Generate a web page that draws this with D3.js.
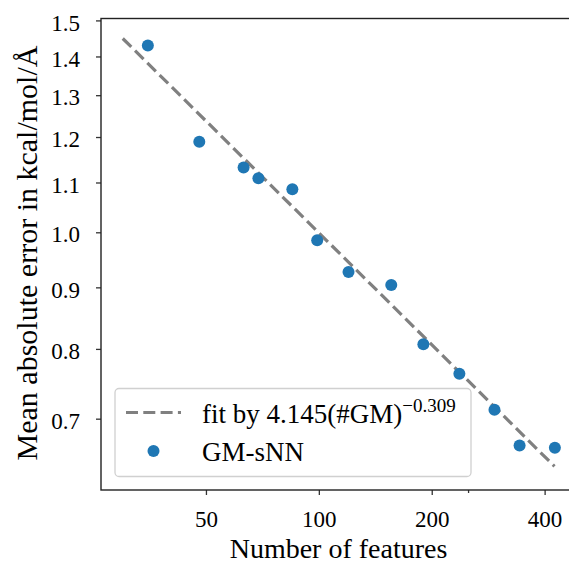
<!DOCTYPE html>
<html>
<head>
<meta charset="utf-8">
<script src="https://cdn.jsdelivr.net/npm/d3@7"></script>
<style>
  body { margin: 0; background: #fff; }
  svg { display: block; }
  svg text { font-family: "Liberation Serif", "DejaVu Serif", serif; fill: #000; }
</style>
</head>
<body>
<div id="visual"></div>
<script>
// data
var features = [35, 48, 63, 69, 85, 99, 120, 156, 190, 237, 294, 343, 426];
var mae = [1.430, 1.189, 1.132, 1.109, 1.086, 0.985, 0.927, 0.904, 0.807, 0.763, 0.712, 0.665, 0.662];

// fitted power law, end points of the dashed line
var fitX = [30, 425];
var fitY = [1.449, 0.639];

var xTicks = [50, 100, 200, 400];
var xMinorTicks = [250];
var yTicks = [0.7, 0.8, 0.9, 1.0, 1.1, 1.2, 1.3, 1.4, 1.5];

var width = 569, height = 563;
var plot = { left: 101, top: 18.5, right: 576, bottom: 490 };

var svg = d3.select("#visual").append("svg")
    .attr("width", width)
    .attr("height", height);

var x = d3.scaleLog()
    .domain([26.25, 485])
    .range([plot.left, plot.right]);

var y = d3.scaleLog()
    .domain([0.6107, 1.5055])
    .range([plot.bottom, plot.top]);

// axes
var xAxis = svg.append("g")
    .attr("transform", "translate(0," + plot.bottom + ")")
    .call(d3.axisBottom(x).tickValues(xTicks).tickFormat(d3.format("d")).tickSize(5));

svg.append("g")
    .attr("transform", "translate(0," + plot.bottom + ")")
    .call(d3.axisBottom(x).tickValues(xMinorTicks).tickFormat("").tickSize(3));

var yAxis = svg.append("g")
    .attr("transform", "translate(" + plot.left + ",0)")
    .call(d3.axisLeft(y).tickValues(yTicks).tickFormat(d3.format(".1f")).tickSize(5).tickPadding(16));

svg.selectAll(".domain").remove();
svg.selectAll(".tick line").attr("stroke", "#333").attr("stroke-width", 1.3);
svg.selectAll(".tick text").style("font-size", "23px");
yAxis.selectAll(".tick text").attr("dy", "0.42em");
xAxis.selectAll(".tick text").attr("y", 37).attr("dy", 0);

// spines (right one falls outside the picture)
svg.append("rect")
    .attr("x", plot.left)
    .attr("y", plot.top)
    .attr("width", plot.right - plot.left)
    .attr("height", plot.bottom - plot.top)
    .attr("fill", "none")
    .attr("stroke", "#222")
    .attr("stroke-width", 1.4);

// fit line
var line = d3.line()
    .x(function (d) { return x(d[0]); })
    .y(function (d) { return y(d[1]); });

svg.append("path")
    .datum(d3.zip(fitX, fitY))
    .attr("d", line)
    .attr("fill", "none")
    .attr("stroke", "#808080")
    .attr("stroke-width", 3.2)
    .attr("stroke-dasharray", "12,5.3");

// points
svg.selectAll(".dot")
    .data(d3.zip(features, mae))
  .enter().append("circle")
    .attr("class", "dot")
    .attr("cx", function (d) { return x(d[0]); })
    .attr("cy", function (d) { return y(d[1]); })
    .attr("r", 6)
    .attr("fill", "#1f77b4");

// axis labels
svg.append("text")
    .attr("x", (plot.left + plot.right) / 2)
    .attr("y", 557.5)
    .attr("text-anchor", "middle")
    .style("font-size", "28px")
    .text("Number of features");

svg.append("text")
    .attr("transform", "translate(37," + 253 + ") rotate(-90)")
    .attr("text-anchor", "middle")
    .style("font-size", "30px")
    .text("Mean absolute error in kcal/mol/Å");

// legend
var legend = svg.append("g");

legend.append("rect")
    .attr("x", 115)
    .attr("y", 388.5)
    .attr("width", 356)
    .attr("height", 88)
    .attr("rx", 4)
    .attr("fill", "#fff")
    .attr("fill-opacity", 0.8)
    .attr("stroke", "#d0d0d0")
    .attr("stroke-width", 1.3);

legend.append("line")
    .attr("x1", 126).attr("x2", 181)
    .attr("y1", 412.5).attr("y2", 412.5)
    .attr("stroke", "#808080")
    .attr("stroke-width", 3.2)
    .attr("stroke-dasharray", "12,5.3");

legend.append("circle")
    .attr("cx", 153.5)
    .attr("cy", 451)
    .attr("r", 6)
    .attr("fill", "#1f77b4");

var fitLabel = legend.append("text")
    .attr("x", 202)
    .attr("y", 422.5)
    .style("font-size", "27px");
fitLabel.append("tspan").text("fit by 4.145(#GM)");
fitLabel.append("tspan")
    .attr("dy", -11)
    .style("font-size", "19px")
    .text("\u22120.309");

legend.append("text")
    .attr("x", 202)
    .attr("y", 460.5)
    .style("font-size", "27px")
    .text("GM-sNN");
</script>
</body>
</html>
